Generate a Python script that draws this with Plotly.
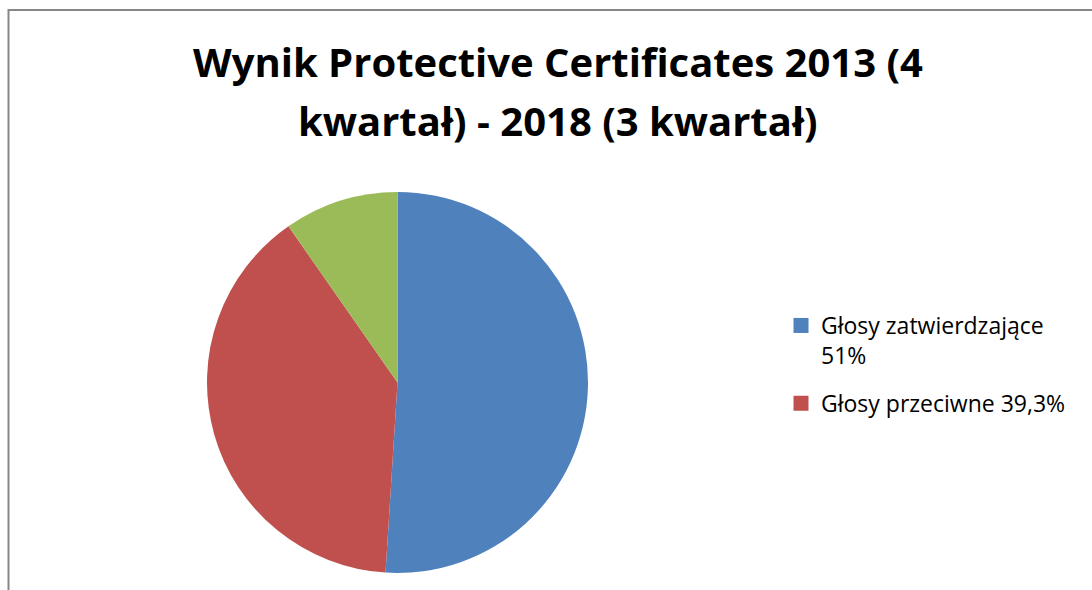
import plotly.graph_objects as go

labels = ["Głosy zatwierdzające 51%", "Głosy przeciwne 39,3%", "Pozostałe 9,7%"]
legend_labels = ["Głosy zatwierdzające<br>51%", "Głosy przeciwne 39,3%"]
values = [51.0, 39.3, 9.7]
colors = ["#4F81BD", "#C0504D", "#9BBB59"]
title_lines = ["Wynik Protective Certificates 2013 (4", "kwartał) - 2018 (3 kwartał)"]

W, H = 1092, 590
FONT = "'Open Sans', sans-serif"

fig = go.Figure()
fig.add_trace(go.Pie(
    labels=labels, values=values, sort=False, direction="clockwise", rotation=0,
    marker=dict(colors=colors, line=dict(width=0)),
    textinfo="none", hoverinfo="label+percent", showlegend=False,
    domain=dict(x=[207 / W, 588 / W], y=[1 - 573 / H, 1 - 192 / H]),
))
for i, (name, col) in enumerate(zip(legend_labels, colors[:2])):
    fig.add_trace(go.Scatter(
        x=[None], y=[None], mode="markers", name=name, legendgroup=f"g{i}",
        marker=dict(symbol="square", size=15, color=col),
    ))

annotations = []
for i, line in enumerate(title_lines):
    annotations.append(dict(
        text=f"<b>{line}</b>", x=558 / W, xref="paper", xanchor="center",
        y=1 - (32 + 59 * i) / H, yref="paper", yanchor="top", showarrow=False,
        font=dict(family=FONT, size=40, color="black"),
    ))

fig.update_layout(
    width=W, height=H,
    margin=dict(l=0, r=0, t=0, b=0),
    paper_bgcolor="white", plot_bgcolor="white",
    xaxis=dict(visible=False), yaxis=dict(visible=False),
    annotations=annotations,
    legend=dict(
        x=781 / W, xanchor="left", y=1 - 304 / H, yanchor="top",
        font=dict(family=FONT, size=23, color="black"),
        valign="top", bgcolor="rgba(0,0,0,0)", tracegroupgap=15,
    ),
    shapes=[dict(
        type="rect", xref="paper", yref="paper",
        x0=8.5 / W, x1=1.02, y0=-0.05, y1=1 - 10 / H,
        line=dict(color="#878787", width=2), fillcolor="rgba(0,0,0,0)",
    )],
)

fig.write_html("out.html")
